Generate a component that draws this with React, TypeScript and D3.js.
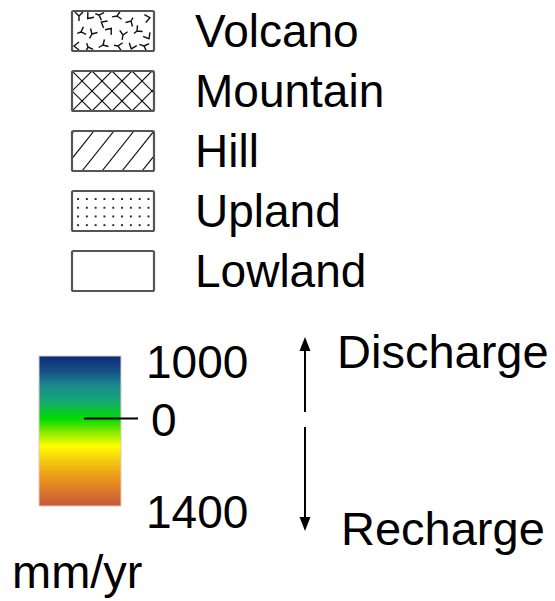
import React from "react";
import * as d3 from "d3";

const categories = ["Volcano", "Mountain", "Hill", "Upland", "Lowland"];
const patterns = ["volcano", "crosshatch", "diagonal", "dots", "none"];

const colorbarTicks = [1000, 0, -1400];
const colorbarTickLabels = ["1000", "0", "1400"];
const colorbarStops = [
  { offset: 0.0, color: "#0c2a78" },
  { offset: 0.1, color: "#164f86" },
  { offset: 0.2, color: "#1b8a8c" },
  { offset: 0.3, color: "#14a874" },
  { offset: 0.42, color: "#00dc00" },
  { offset: 0.5, color: "#7ee800" },
  { offset: 0.6, color: "#ffff00" },
  { offset: 0.7, color: "#f4c810" },
  { offset: 0.82, color: "#e8941c" },
  { offset: 1.0, color: "#c8573c" },
];
const unitLabel = "mm/yr";
const dischargeLabel = "Discharge";
const rechargeLabel = "Recharge";

// glyph positions for volcano texture (box-relative): x, y, rotation, variant
const volcanoGlyphs: [number, number, number, number][] = [
  [7, 5, 0, 0], [17, 6, 40, 1], [27, 4, 200, 2], [45, 5, 80, 0],
  [31, 12, 120, 1], [59, 10, 300, 2], [76, 7, 260, 1],
  [9, 21, 160, 2], [20, 23, 30, 0], [38, 19, 220, 1],
  [51, 24, 10, 0], [65, 20, 140, 2], [76, 26, 330, 1],
  [4, 35, 90, 1], [16, 36, 250, 2], [31, 34, 60, 0],
  [46, 35, 190, 2], [60, 36, 20, 1], [72, 35, 110, 0],
];
const glyphPaths = [
  "M0,0 L-4,-4 M0,0 L4,-4 M0,0 L0,5",
  "M-4,-3 L0,2 L4,-3",
  "M-4,-4 L0,0 L-4,4 M0,0 L4,0",
];

const FONT = "'Liberation Sans', Arial, Helvetica, sans-serif";

export default function App() {
  const W = 555, H = 601;
  const boxX = 72, boxW = 82, boxH = 40;
  const rowY = d3.scalePoint<string>().domain(categories).range([31, 271]);

  const barX = 39, barW = 82;
  const yBar = d3.scaleLinear().domain([1000, -1400]).range([356, 506]);

  const renderPattern = (p: string, x: number, y: number, id: string) => {
    const els: React.ReactNode[] = [];
    if (p === "crosshatch") {
      const step = 20;
      for (let k = -boxH; k < boxW + boxH; k += step) {
        els.push(<line key={"a" + k} x1={x + k} y1={y} x2={x + k + boxH} y2={y + boxH} stroke="#111" strokeWidth={1.1} />);
        els.push(<line key={"b" + k} x1={x + k + boxH} y1={y} x2={x + k} y2={y + boxH} stroke="#111" strokeWidth={1.1} />);
      }
    } else if (p === "diagonal") {
      const step = 20;
      for (let k = -30; k < boxW + 30; k += step) {
        els.push(<line key={"d" + k} x1={x + k} y1={y + boxH} x2={x + k + 32} y2={y} stroke="#111" strokeWidth={1.2} />);
      }
    } else if (p === "dots") {
      for (let r = 0; r < 4; r++) {
        for (let c = 0; c < 9; c++) {
          els.push(<rect key={`p${r}-${c}`} x={x + 6 + c * 8.8 - 0.9} y={y + 8 + r * 8.7 - 0.9} width={1.9} height={1.9} fill="#222" />);
        }
      }
    } else if (p === "volcano") {
      volcanoGlyphs.forEach(([gx, gy, rot, v], i) => {
        els.push(
          <g key={"v" + i} transform={`translate(${x + gx},${y + gy}) rotate(${rot})`}>
            <path d={glyphPaths[v]} stroke="#111" strokeWidth={1.4} fill="none" />
          </g>
        );
      });
    }
    return <g clipPath={`url(#${id})`}>{els}</g>;
  };

  return (
    <svg width={W} height={H} style={{ position: "absolute", left: 0, top: 0, display: "block", background: "#fff" }} fontFamily={FONT}>
      <defs>
        <linearGradient id="cbar" x1="0" y1="0" x2="0" y2="1">
          {colorbarStops.map((s, i) => (
            <stop key={i} offset={s.offset} stopColor={s.color} />
          ))}
        </linearGradient>
        {categories.map((c) => (
          <clipPath id={"clip-" + c} key={c}>
            <rect x={boxX} y={(rowY(c) as number) - boxH / 2} width={boxW} height={boxH} />
          </clipPath>
        ))}
      </defs>

      {categories.map((c, i) => {
        const cy = rowY(c) as number;
        const y = cy - boxH / 2;
        return (
          <g key={c}>
            {renderPattern(patterns[i], boxX, y, "clip-" + c)}
            <rect x={boxX} y={y} width={boxW} height={boxH} fill="none" stroke="#555" strokeWidth={2.2} rx={1.5} />
            <text x={195} y={cy + 16} fontSize={46} fill="#000">{c}</text>
          </g>
        );
      })}

      {/* colorbar */}
      <rect x={barX} y={yBar(1000)} width={barW} height={yBar(-1400) - yBar(1000)} fill="url(#cbar)" stroke="#e4c9c0" strokeWidth={1} />
      <line x1={84} x2={138} y1={yBar(0)} y2={yBar(0)} stroke="#000" strokeWidth={2} />
      {colorbarTicks.map((t, i) => {
        const y = yBar(t);
        const off = t === 0 ? 17 : 22;
        return (
          <text key={t} x={t === 0 ? 151 : 146} y={y + off} fontSize={46} fill="#000">{colorbarTickLabels[i]}</text>
        );
      })}
      <text x={12} y={588} fontSize={47} fill="#000">{unitLabel}</text>

      {/* arrows */}
      <line x1={305} x2={305} y1={350} y2={412} stroke="#000" strokeWidth={2} />
      <path d="M305,337 L299.5,351 L310.5,351 Z" fill="#000" />
      <line x1={305} x2={305} y1={427} y2={517} stroke="#000" strokeWidth={2} />
      <path d="M305,531 L299.5,517 L310.5,517 Z" fill="#000" />
      <text x={337} y={368} fontSize={47} fill="#000">{dischargeLabel}</text>
      <text x={341} y={545} fontSize={47} fill="#000">{rechargeLabel}</text>
    </svg>
  );
}
